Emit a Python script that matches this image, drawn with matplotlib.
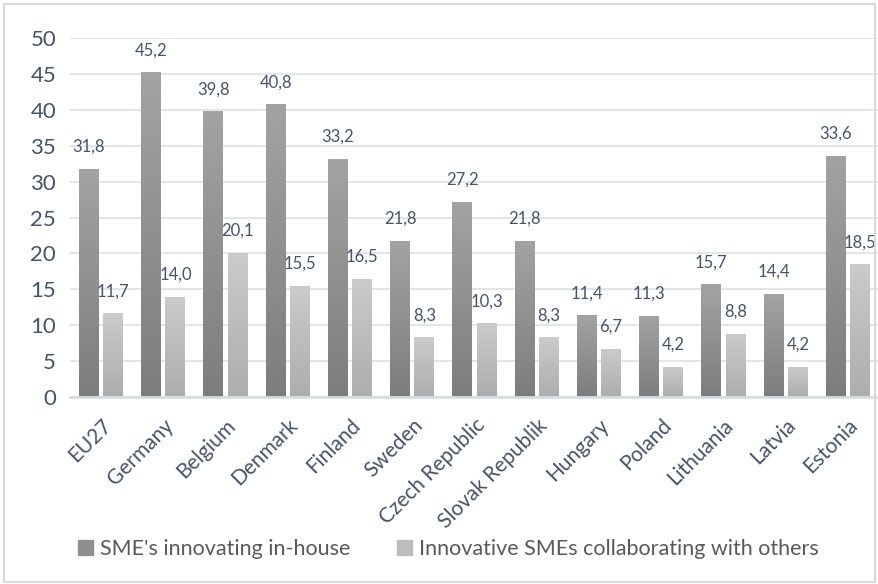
import numpy as np
import matplotlib
matplotlib.use("Agg")
import matplotlib.pyplot as plt
from matplotlib.patches import Rectangle

plt.rcParams['font.family'] = ['Lato', 'DejaVu Sans']

# Datos
paises = ["EU27", "Germany", "Belgium", "Denmark", "Finland", "Sweden", "Czech Republic",
          "Slovak Republik", "Hungary", "Poland", "Lithuania", "Latvia", "Estonia"]
en_casa = [31.8, 45.2, 39.8, 40.8, 33.2, 21.8, 27.2, 21.8, 11.4, 11.3, 15.7, 14.4, 33.6]
colaborando = [11.7, 14.0, 20.1, 15.5, 16.5, 8.3, 10.3, 8.3, 6.7, 4.2, 8.8, 4.2, 18.5]
nombres_series = ["SME's innovating in-house", "Innovative SMEs collaborating with others"]
y_ticks = [0, 5, 10, 15, 20, 25, 30, 35, 40, 45, 50]

color_texto = "#44546a"
color_ejes = "#595959"

fig = plt.figure(figsize=(8.79, 5.84), dpi=100)
ax = fig.add_axes([0.0796, 0.32, 0.9204, 0.615])

x = np.arange(len(paises))
ancho = 0.32
desp = 0.195


def barras_degradado(ax, xs, vals, c_arriba, c_abajo):
    grad = np.linspace(0, 1, 256).reshape(-1, 1)
    c1 = np.array(matplotlib.colors.to_rgb(c_arriba))
    c2 = np.array(matplotlib.colors.to_rgb(c_abajo))
    img = c1[None, None, :] * (1 - grad[:, :, None]) + c2[None, None, :] * grad[:, :, None]
    for xi, v in zip(xs, vals):
        rect = Rectangle((xi - ancho / 2, 0), ancho, v, facecolor="none", edgecolor="none")
        ax.add_patch(rect)
        im = ax.imshow(img, extent=(xi - ancho / 2, xi + ancho / 2, 0, v),
                       aspect="auto", zorder=2, interpolation="bilinear")
        im.set_clip_path(rect)


barras_degradado(ax, x - desp, en_casa, "#a3a3a3", "#7d7d7d")
barras_degradado(ax, x + desp, colaborando, "#cbcbcb", "#adadad")

# Etiquetas de datos
for xi, v in zip(x - desp, en_casa):
    ax.annotate(f"{v:.1f}".replace(".", ","), (xi, v), xytext=(0, 10), textcoords="offset points",
                ha="center", va="bottom", fontsize=12, color=color_texto)
for xi, v in zip(x + desp, colaborando):
    ax.annotate(f"{v:.1f}".replace(".", ","), (xi, v), xytext=(0, 10), textcoords="offset points",
                ha="center", va="bottom", fontsize=12, color=color_texto)

ax.set_xlim(-0.5, len(paises) - 0.5)
ax.set_ylim(0, 50)
ax.set_yticks(y_ticks)
ax.set_yticklabels([str(t) for t in y_ticks], fontsize=16, color=color_texto)
ax.set_xticks(x)
ax.set_xticklabels(paises, rotation=45, ha="right", rotation_mode="anchor",
                   fontsize=15, color=color_texto)
ax.tick_params(length=0, pad=13)
ax.tick_params(axis="y", pad=10)
ax.yaxis.grid(True, color="#dde1e6", linewidth=1.2)
ax.set_axisbelow(True)
for s in ["top", "right", "left"]:
    ax.spines[s].set_visible(False)
ax.spines["bottom"].set_color("#d9dde2")
ax.spines["bottom"].set_linewidth(2)

# Leyenda
h1 = Rectangle((0, 0), 1, 1, color="#8f8f8f")
h2 = Rectangle((0, 0), 1, 1, color="#bdbdbd")
leg = fig.legend([h1, h2], nombres_series, loc="center", bbox_to_anchor=(0.51, 0.06), ncol=2,
                 frameon=False, fontsize=15.5, handlelength=0.7, handleheight=0.7,
                 handletextpad=0.3, columnspacing=2.2)
for t in leg.get_texts():
    t.set_color(color_ejes)

# Borde
fig.patches.append(Rectangle((0.004, 0.004), 0.992, 0.99, transform=fig.transFigure,
                             fill=False, edgecolor="#d9d9d9", linewidth=1.5))

fig.savefig("out.png", dpi=100)
